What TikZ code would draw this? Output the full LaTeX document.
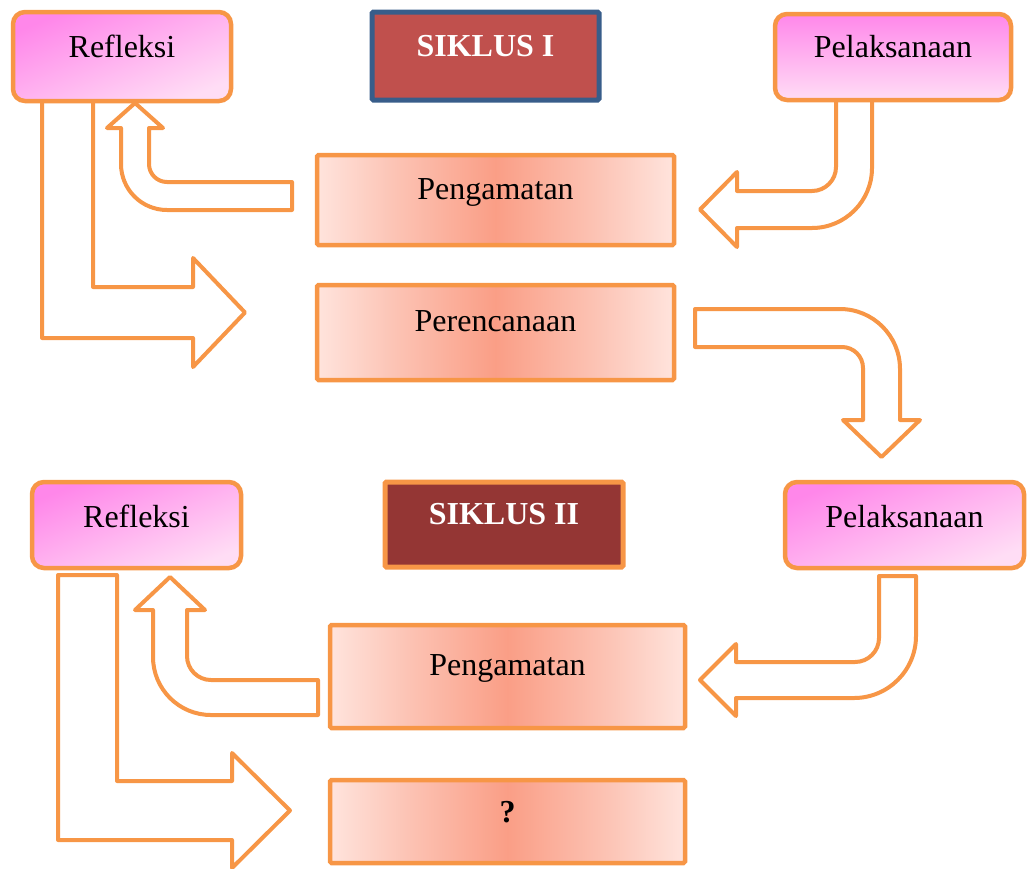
\documentclass[tikz,border=0pt]{standalone}
\usepackage{fontspec}
\setmainfont{Liberation Serif}
\definecolor{borange}{HTML}{F79646}
\definecolor{bblue}{HTML}{385D8A}
\definecolor{sikred}{HTML}{C0504D}
\definecolor{sikdark}{HTML}{943634}
\definecolor{magT}{HTML}{FF87EA}
\definecolor{magB}{HTML}{FFDDF5}
\definecolor{salC}{HTML}{FA9E86}
\definecolor{salM}{HTML}{FCC3B4}
\definecolor{salE}{HTML}{FFE4DD}
\pgfdeclarehorizontalshading{salshade}{100bp}{color(0bp)=(salE); color(25bp)=(salE); color(36bp)=(salM); color(50bp)=(salC); color(64bp)=(salM); color(75bp)=(salE); color(100bp)=(salE)}
\begin{document}
\begin{tikzpicture}[x=1pt,y=-1pt,
  blockarrow/.style={draw=borange, fill=white, line width=4pt, line join=round},
  boxbase/.style={line width=4.5pt, inner xsep=0pt, inner ysep=0pt, font=\fontsize{32}{38}\selectfont},
  magbox/.style={boxbase, draw=borange, rounded corners=12pt, top color=magT, bottom color=magB, shading angle=22},
  magboxv/.style={boxbase, draw=borange, rounded corners=12pt, top color=magT, bottom color=magB},
  salbox/.style={boxbase, draw=borange, rounded corners=1.5pt, shade, shading=salshade},
  sikbox/.style={boxbase, line width=5pt, rounded corners=1.5pt, text=white, font=\fontsize{32}{38}\selectfont\bfseries}
]
\useasboundingbox (0,0) rectangle (1027,868);

% ---------- block arrows (cycle I) ----------
\draw[blockarrow] (42,100) -- (42,338) -- (193,338) -- (193,367) -- (245,312.5) -- (193,258) -- (193,287) -- (93,287) -- (93,100) -- cycle;
\draw[blockarrow] (292,182) -- (167,182) .. controls (157.06,182) and (149,173.94) .. (149,164) -- (149,128) -- (163,128) -- (135,103) -- (107,128) -- (121,128) -- (121,164) .. controls (121,189.41) and (141.59,210) .. (167,210) -- (292,210) -- cycle;
\draw[blockarrow] (836,98) -- (836,167) .. controls (836,180.25) and (825.25,191) .. (812,191) -- (737,191) -- (737,172) -- (700,209.5) -- (737,247) -- (737,228) -- (812,228) .. controls (845.14,228) and (872,201.14) .. (872,168) -- (872,98) -- cycle;
\draw[blockarrow] (695,309) -- (840,309) .. controls (873.14,309) and (900,335.86) .. (900,369) -- (900,420) -- (920,420) -- (881.5,457) -- (843,420) -- (863,420) -- (863,368) .. controls (863,356.4) and (853.6,347) .. (842,347) -- (695,347) -- cycle;

% ---------- block arrows (cycle II) ----------
\draw[blockarrow] (58,575) -- (58,840) -- (232,840) -- (232,868) -- (290,810.5) -- (232,753) -- (232,781) -- (117,781) -- (117,575) -- cycle;
\draw[blockarrow] (318,680) -- (211,680) .. controls (197.75,680) and (187,669.25) .. (187,656) -- (187,610) -- (205,610) -- (170,577) -- (135,610) -- (153,610) -- (153,657) .. controls (153,689.03) and (178.97,715) .. (211,715) -- (318,715) -- cycle;
\draw[blockarrow] (879,576) -- (879,638) .. controls (879,651.25) and (868.25,662) .. (855,662) -- (736,662) -- (736,644) -- (700,680) -- (736,716) -- (736,698) -- (854,698) .. controls (888.24,698) and (916,670.24) .. (916,636) -- (916,576) -- cycle;

% ---------- boxes (cycle I) ----------
\node[magbox, minimum width=218pt, text height=45pt, text depth=44pt] (ref1) at (122,56.5) {Refleksi};
\node[sikbox, draw=bblue, fill=sikred, minimum width=227pt, text height=44pt, text depth=44pt] (sik1) at (485.5,56) {SIKLUS I};
\node[magboxv, minimum width=236pt, text height=43pt, text depth=43pt] (pel1) at (893,57) {Pelaksanaan};
\node[salbox, minimum width=357pt, text height=44pt, text depth=46pt] (peng1) at (495.5,200) {Pengamatan};
\node[salbox, minimum width=357pt, text height=46pt, text depth=49pt] (peren1) at (495.5,332.5) {Perencanaan};

% ---------- boxes (cycle II) ----------
\node[magbox, minimum width=209pt, text height=45pt, text depth=41pt] (ref2) at (136.5,525) {Refleksi};
\node[sikbox, draw=borange, fill=sikdark, minimum width=238pt, text height=42pt, text depth=43pt] (sik2) at (504,524.5) {SIKLUS II};
\node[magbox, minimum width=239pt, text height=45pt, text depth=41pt] (pel2) at (904.5,525) {Pelaksanaan};
\node[salbox, minimum width=355pt, text height=50pt, text depth=53pt] (peng2) at (507.5,676.5) {Pengamatan};
\node[salbox, minimum width=355pt, text height=42pt, text depth=41pt, font=\fontsize{32}{38}\selectfont\bfseries] (q) at (507.5,821.5) {?};
\end{tikzpicture}
\end{document}
